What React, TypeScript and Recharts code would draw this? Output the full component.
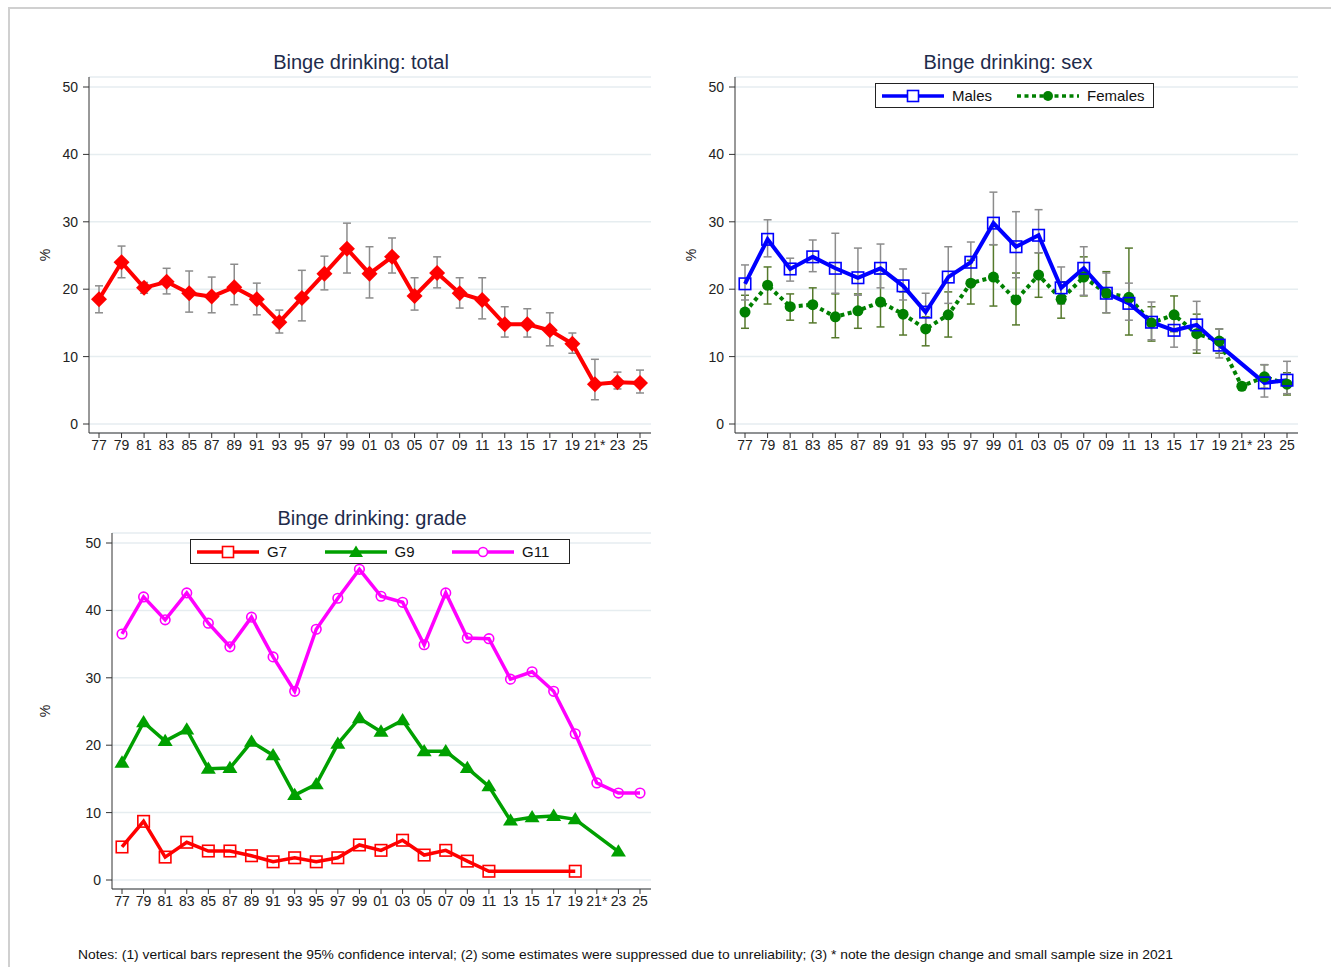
import { CartesianGrid, ErrorBar, Label, Line, LineChart, XAxis, YAxis } from 'recharts'

// survey years (two-digit), 2021 flagged for design change
const years = ['77', '79', '81', '83', '85', '87', '89', '91', '93', '95', '97', '99', '01', '03', '05', '07', '09', '11', '13', '15', '17', '19', '21*', '23', '25']
const yTicks = [0, 10, 20, 30, 40, 50]

// binge drinking, total (%), with 95% CI
const totalPct = [18.5, 24.0, 20.2, 21.1, 19.4, 18.9, 20.3, 18.5, 15.1, 18.7, 22.3, 26.0, 22.3, 24.8, 19.0, 22.4, 19.4, 18.4, 14.8, 14.8, 13.9, 11.9, 5.9, 6.2, 6.1]
const totalLow = [16.5, 21.7, 19.4, 19.3, 16.6, 16.5, 17.7, 16.2, 13.5, 15.3, 19.9, 22.4, 18.7, 22.4, 16.9, 20.2, 17.2, 15.6, 12.9, 12.9, 11.6, 10.5, 3.6, 5.2, 4.6]
const totalHigh = [20.5, 26.4, 21.0, 23.1, 22.7, 21.8, 23.7, 20.9, 16.9, 22.8, 24.9, 29.8, 26.3, 27.6, 21.7, 24.8, 21.7, 21.7, 17.4, 17.1, 16.5, 13.5, 9.6, 7.7, 8.0]

// by sex
const malesPct = [20.8, 27.4, 23.0, 24.8, 23.1, 21.7, 23.1, 20.5, 16.6, 21.8, 24.0, 29.8, 26.3, 28.0, 20.2, 23.1, 19.4, 17.9, 15.1, 13.9, 14.7, 11.7, null, 6.1, 6.5]
const malesLow = [18.4, 24.8, 21.2, 22.6, 19.4, 19.1, 20.2, 18.4, 14.4, 17.9, 21.4, 26.6, 21.7, 25.4, 17.8, 19.1, 16.5, 15.4, 12.5, 11.4, 11.0, 9.8, null, 4.0, 4.5]
const malesHigh = [23.6, 30.3, 24.6, 27.3, 28.3, 26.1, 26.7, 23.0, 19.4, 26.3, 27.0, 34.4, 31.5, 31.8, 23.3, 26.3, 22.4, 20.9, 18.1, 16.5, 18.2, 14.1, null, 8.8, 9.3]
const femalesPct = [16.6, 20.6, 17.4, 17.7, 15.9, 16.8, 18.1, 16.3, 14.1, 16.2, 20.9, 21.8, 18.4, 22.1, 18.5, 21.8, 19.4, 18.8, 15.0, 16.2, 13.4, 12.3, 5.6, 7.0, 5.9]
const femalesLow = [14.2, 17.8, 15.4, 15.0, 12.8, 14.2, 14.4, 13.2, 11.6, 12.9, 17.8, 17.5, 14.7, 18.8, 15.7, 19.0, 16.5, 13.2, 12.3, 13.7, 10.5, 10.5, null, 5.3, 4.3]
const femalesHigh = [19.1, 23.3, 19.3, 20.2, 19.3, 19.3, 22.3, 19.6, 15.9, 19.6, 24.3, 26.6, 22.4, 25.4, 21.1, 24.8, 22.6, 26.1, 17.4, 19.0, 16.3, 14.1, null, 8.8, 7.6]

// by grade (suppressed estimates are null)
const g7Pct = [4.9, 8.7, 3.4, 5.6, 4.3, 4.3, 3.6, 2.7, 3.3, 2.7, 3.3, 5.2, 4.4, 5.9, 3.7, 4.4, 2.8, 1.3, null, null, null, 1.3, null, null, null]
const g9Pct = [17.4, 23.4, 20.6, 22.3, 16.5, 16.6, 20.5, 18.5, 12.6, 14.2, 20.2, 24.0, 22.0, 23.7, 19.1, 19.1, 16.6, 13.9, 8.8, 9.3, 9.5, 9.0, null, 4.2, null]
const g11Pct = [36.5, 42.0, 38.6, 42.6, 38.1, 34.6, 39.0, 33.1, 28.0, 37.2, 41.8, 46.1, 42.1, 41.2, 34.9, 42.6, 35.9, 35.8, 29.8, 30.9, 28.0, 21.7, 14.4, 12.9, 12.9]

type Num = number | null

// ErrorBar wants offsets from the point, not bounds
function errSpan(v: Num, lo: Num, hi: Num) {
  if (v == null || lo == null || hi == null) return null
  return [+(v - lo).toFixed(2), +(hi - v).toFixed(2)]
}

const totalRows = years.map((year, i) => ({
  year,
  total: totalPct[i],
  totalErr: errSpan(totalPct[i], totalLow[i], totalHigh[i]),
}))

const sexRows = years.map((year, i) => ({
  year,
  males: malesPct[i],
  malesErr: errSpan(malesPct[i], malesLow[i], malesHigh[i]),
  females: femalesPct[i],
  femalesErr: errSpan(femalesPct[i], femalesLow[i], femalesHigh[i]),
}))

const gradeRows = years.map((year, i) => ({ year, g7: g7Pct[i], g9: g9Pct[i], g11: g11Pct[i] }))

const RED = '#ff0000'
const BLUE = '#0000ff'
const DKGREEN = '#008000'
const GREEN = '#00a000'
const MAGENTA = '#ff00ff'
const CI_GRAY = '#8c8c8c'
const CI_OLIVE = '#56792c'
const GRID = '#e6edf0'
const FONT = '"Liberation Sans", Arial, sans-serif'

type DotProps = { cx?: number; cy?: number; index?: number }

const missing = (p: DotProps) => p.cx == null || p.cy == null || Number.isNaN(p.cy)

const diamondDot = (color: string, r: number) => (p: DotProps) => {
  if (missing(p)) return <g key={`m-${p.index}`} />
  const { cx = 0, cy = 0 } = p
  return (
    <polygon
      key={`dm-${p.index}`}
      points={`${cx},${cy - r} ${cx + r},${cy} ${cx},${cy + r} ${cx - r},${cy}`}
      fill={color}
    />
  )
}

const squareDot = (color: string, s: number) => (p: DotProps) => {
  if (missing(p)) return <g key={`m-${p.index}`} />
  return (
    <rect
      key={`sq-${p.index}`}
      x={(p.cx ?? 0) - s / 2}
      y={(p.cy ?? 0) - s / 2}
      width={s}
      height={s}
      fill="none"
      stroke={color}
      strokeWidth={1.6}
    />
  )
}

const circleDot = (color: string, r: number, filled: boolean) => (p: DotProps) => {
  if (missing(p)) return <g key={`m-${p.index}`} />
  return (
    <circle
      key={`ci-${p.index}`}
      cx={p.cx}
      cy={p.cy}
      r={r}
      fill={filled ? color : 'none'}
      stroke={color}
      strokeWidth={filled ? 0 : 1.6}
    />
  )
}

const triangleDot = (color: string, w: number) => (p: DotProps) => {
  if (missing(p)) return <g key={`m-${p.index}`} />
  const { cx = 0, cy = 0 } = p
  const h = w * 0.82
  return (
    <polygon
      key={`tr-${p.index}`}
      points={`${cx},${cy - h * 0.6} ${cx + w / 2},${cy + h * 0.4} ${cx - w / 2},${cy + h * 0.4}`}
      fill={color}
    />
  )
}

function PctLabel({ viewBox }: { viewBox?: { x: number; y: number; width: number; height: number } }) {
  if (!viewBox) return null
  const x = viewBox.x + 15
  const y = viewBox.y + viewBox.height / 2
  return (
    <text x={x} y={y} transform={`rotate(-90 ${x} ${y})`} textAnchor="middle" dominantBaseline="central" fontSize={14} fill="#222">
      %
    </text>
  )
}

const xAxisProps = {
  dataKey: 'year',
  interval: 0,
  tickSize: 5,
  tickMargin: 2,
  stroke: '#333',
  fontSize: 14,
  tick: { fontSize: 14, fill: '#222' },
  padding: { left: 10, right: 11 },
} as const

const yAxisProps = {
  type: 'number',
  domain: [0, 50],
  ticks: yTicks,
  interval: 0,
  tickSize: 6,
  tickMargin: 5,
  stroke: '#333',
  fontSize: 14,
  tick: { fontSize: 14, fill: '#222' },
  padding: { top: 10, bottom: 9 },
} as const

function Title({ text, cx, cy }: { text: string; cx: number; cy: number }) {
  return (
    <div
      style={{
        position: 'absolute',
        left: cx - 150,
        top: cy - 13,
        width: 300,
        textAlign: 'center',
        fontSize: 20,
        lineHeight: '26px',
        color: '#1e2b4b',
      }}
    >
      {text}
    </div>
  )
}

interface LegendItem {
  label: string
  color: string
  dash?: string
  marker: 'square' | 'circle' | 'ocircle' | 'triangle'
}

function Swatch({ item }: { item: LegendItem }) {
  const c = item.color
  return (
    <svg width={62} height={16} style={{ flexShrink: 0 }}>
      <line x1={0} y1={8} x2={62} y2={8} stroke={c} strokeWidth={3.5} strokeDasharray={item.dash} />
      {item.marker === 'square' && <rect x={25.5} y={2.5} width={11} height={11} fill="#fff" stroke={c} strokeWidth={1.6} />}
      {item.marker === 'circle' && <circle cx={31} cy={8} r={5} fill={c} />}
      {item.marker === 'ocircle' && <circle cx={31} cy={8} r={4.5} fill="#fff" stroke={c} strokeWidth={1.6} />}
      {item.marker === 'triangle' && <polygon points="31,1.5 38,13 24,13" fill={c} />}
    </svg>
  )
}

function LegendBox({ items, left, top, width, itemWidth }: { items: LegendItem[]; left: number; top: number; width: number; itemWidth: number }) {
  return (
    <div
      style={{
        position: 'absolute',
        left,
        top,
        width,
        height: 25,
        boxSizing: 'border-box',
        border: '1px solid #222',
        background: '#fff',
        display: 'flex',
        alignItems: 'center',
        paddingLeft: 6,
      }}
    >
      {items.map((it) => (
        <div key={it.label} style={{ width: itemWidth, display: 'flex', alignItems: 'center', flexShrink: 0 }}>
          <Swatch item={it} />
          <span style={{ marginLeft: 8, fontSize: 15, color: '#111' }}>{it.label}</span>
        </div>
      ))}
    </div>
  )
}

const sexLegend: LegendItem[] = [
  { label: 'Males', color: BLUE, marker: 'square' },
  { label: 'Females', color: DKGREEN, dash: '4 3.5', marker: 'circle' },
]

const gradeLegend: LegendItem[] = [
  { label: 'G7', color: RED, marker: 'square' },
  { label: 'G9', color: GREEN, marker: 'triangle' },
  { label: 'G11', color: MAGENTA, marker: 'ocircle' },
]

export default function App() {
  return (
    <div
      style={{
        position: 'fixed',
        left: 0,
        top: 0,
        width: 1331,
        height: 967,
        overflow: 'hidden',
        background: '#fff',
        fontFamily: FONT,
      }}
    >
      {/* outer graph region border */}
      <div style={{ position: 'absolute', left: 8, top: 7, width: 1400, height: 1000, border: '2px solid #d0d0d0' }} />

      <Title text="Binge drinking: total" cx={361} cy={62} />
      <div style={{ position: 'absolute', left: 30, top: 60 }}>
        <LineChart width={640} height={410} data={totalRows} margin={{ top: 17, right: 19, bottom: 7, left: 0 }}>
          <CartesianGrid vertical={false} stroke={GRID} strokeWidth={1.5} />
          <XAxis {...xAxisProps} />
          <YAxis {...yAxisProps} width={59}>
            <Label content={<PctLabel />} />
          </YAxis>
          <Line
            dataKey="total"
            stroke={RED}
            strokeWidth={4}
            dot={diamondDot(RED, 8)}
            activeDot={false}
            isAnimationActive={false}
          >
            <ErrorBar dataKey="totalErr" width={4} stroke={CI_GRAY} strokeWidth={1.5} direction="y" isAnimationActive={false} />
          </Line>
        </LineChart>
      </div>

      <Title text="Binge drinking: sex" cx={1008} cy={62} />
      <div style={{ position: 'absolute', left: 676, top: 60 }}>
        <LineChart width={640} height={410} data={sexRows} margin={{ top: 17, right: 18, bottom: 7, left: 0 }}>
          <CartesianGrid vertical={false} stroke={GRID} strokeWidth={1.5} />
          <XAxis {...xAxisProps} />
          <YAxis {...yAxisProps} width={59}>
            <Label content={<PctLabel />} />
          </YAxis>
          <Line
            dataKey="females"
            stroke={DKGREEN}
            strokeWidth={4}
            strokeDasharray="4 3.5"
            dot={circleDot(DKGREEN, 5.5, true)}
            activeDot={false}
            isAnimationActive={false}
          >
            <ErrorBar dataKey="femalesErr" width={4} stroke={CI_OLIVE} strokeWidth={1.5} direction="y" isAnimationActive={false} />
          </Line>
          <Line
            dataKey="males"
            stroke={BLUE}
            strokeWidth={4}
            connectNulls
            dot={squareDot(BLUE, 11.5)}
            activeDot={false}
            isAnimationActive={false}
          >
            <ErrorBar dataKey="malesErr" width={4} stroke={CI_GRAY} strokeWidth={1.5} direction="y" isAnimationActive={false} />
          </Line>
        </LineChart>
      </div>
      <LegendBox items={sexLegend} left={875} top={83} width={279} itemWidth={135} />

      <Title text="Binge drinking: grade" cx={372} cy={518} />
      <div style={{ position: 'absolute', left: 30, top: 516 }}>
        <LineChart width={643} height={410} data={gradeRows} margin={{ top: 17, right: 22, bottom: 7, left: 0 }}>
          <CartesianGrid vertical={false} stroke={GRID} strokeWidth={1.5} />
          <XAxis {...xAxisProps} />
          <YAxis {...yAxisProps} width={82}>
            <Label content={<PctLabel />} />
          </YAxis>
          <Line dataKey="g7" stroke={RED} strokeWidth={3.5} connectNulls dot={squareDot(RED, 11.5)} activeDot={false} isAnimationActive={false} />
          <Line dataKey="g9" stroke={GREEN} strokeWidth={3.5} connectNulls dot={triangleDot(GREEN, 15)} activeDot={false} isAnimationActive={false} />
          <Line dataKey="g11" stroke={MAGENTA} strokeWidth={3.5} connectNulls dot={circleDot(MAGENTA, 4.8, false)} activeDot={false} isAnimationActive={false} />
        </LineChart>
      </div>
      <LegendBox items={gradeLegend} left={190} top={539} width={380} itemWidth={127.5} />

      <svg style={{ position: 'absolute', left: 0, top: 940 }} width={1331} height={27}>
        <text x={78} y={19} fontSize={13} fill="#111" textLength={1095} lengthAdjust="spacingAndGlyphs">
          Notes: (1) vertical bars represent the 95% confidence interval; (2) some estimates were suppressed due to unreliability; (3) * note the design change and small sample size in 2021
        </text>
      </svg>
    </div>
  )
}
